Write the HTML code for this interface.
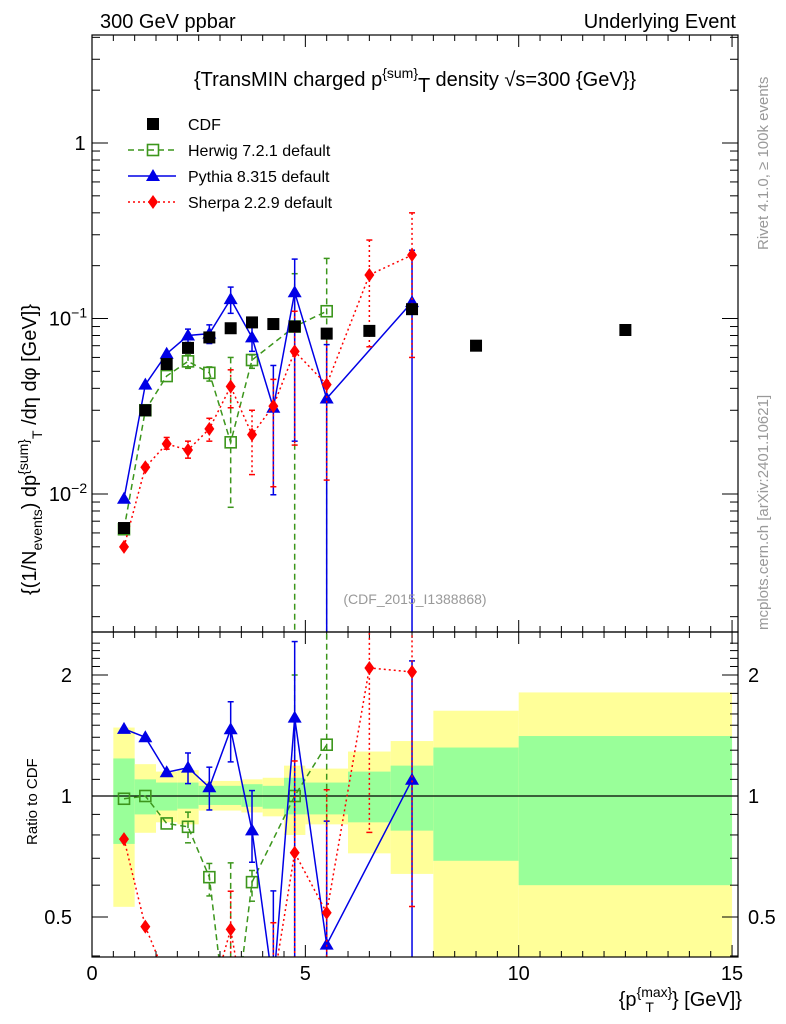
<!DOCTYPE html>
<html><head><meta charset="utf-8"><style>
html,body{margin:0;padding:0;background:#fff;width:786px;height:1024px;overflow:hidden}
svg{display:block;font-family:"Liberation Sans",sans-serif}
</style></head><body>
<svg id="chart" width="786" height="1024" viewBox="0 0 786 1024" xmlns="http://www.w3.org/2000/svg">
<defs>
<clipPath id="cm"><rect x="92" y="35" width="646" height="597"/></clipPath>
<clipPath id="cr"><rect x="92" y="632" width="646" height="325"/></clipPath>
</defs>
<rect x="0" y="0" width="786" height="1024" fill="#fff"/>
<g id="bands" clip-path="url(#cr)"></g>
<g id="ticks"></g>
<line id="unity" stroke="#000" stroke-width="1.2"/>
<g id="main" clip-path="url(#cm)"></g>
<g id="ratio" clip-path="url(#cr)"></g>
<rect x="92" y="35" width="646" height="597" fill="none" stroke="#000" stroke-width="1.2"/>
<rect x="92" y="632" width="646" height="325" fill="none" stroke="#000" stroke-width="1.2"/>
<text x="100" y="28" font-size="20">300 GeV ppbar</text>
<text x="736" y="28" font-size="20" text-anchor="end">Underlying Event</text>
<text x="415" y="86" font-size="20" text-anchor="middle">{TransMIN charged p<tspan font-size="14" dy="-8">{sum}</tspan><tspan dy="14">T</tspan><tspan dy="-6"> density √s=300 {GeV}}</tspan></text>
<text x="415" y="604" font-size="14" fill="#999" text-anchor="middle">(CDF_2015_I1388868)</text>
<text transform="translate(768,250) rotate(-90)" font-size="15" fill="#999">Rivet 4.1.0, ≥ 100k events</text>
<text transform="translate(768,630) rotate(-90)" font-size="15" fill="#999">mcplots.cern.ch [arXiv:2401.10621]</text>
<text transform="translate(36,595) rotate(-90)" font-size="20">{(1/N<tspan font-size="14" dy="6">events</tspan><tspan dy="-6">) dp</tspan><tspan font-size="14" dy="-8">{sum}</tspan><tspan font-size="14" dy="14">T</tspan><tspan dy="-6"> /dη  dφ [GeV]}</tspan></text>
<text transform="translate(37,845) rotate(-90)" font-size="15">Ratio to CDF</text>
<text x="742" y="1006" font-size="20" text-anchor="end">{p<tspan font-size="14" dy="-9">{max}</tspan><tspan font-size="14" dx="-27" dy="15">T</tspan><tspan dx="18" dy="-6">} [GeV]}</tspan></text>
<g id="legend"></g>
</svg>
<script>
const xCenters=[0.75,1.25,1.75,2.25,2.75,3.25,3.75,4.25,4.75,5.5,6.5,7.5,9,12.5];
const cdfVals=[0.0064,0.030,0.055,0.068,0.078,0.088,0.095,0.093,0.090,0.082,0.085,0.113,0.070,0.086];
const herwigX=[0.75,1.25,1.75,2.25,2.75,3.25,3.75,4.75,5.5];
const herwigVals=[0.0063,0.030,0.047,0.057,0.049,0.0197,0.058,0.090,0.110];
const herwigHi=[null,null,null,0.062,0.053,0.060,0.062,0.18,0.22];
const herwigLo=[null,null,null,0.052,0.044,0.0084,0.052,0,0];
const pythiaX=[0.75,1.25,1.75,2.25,2.75,3.25,3.75,4.25,4.75,5.5,7.5];
const pythiaVals=[0.0094,0.042,0.063,0.080,0.082,0.129,0.078,0.031,0.141,0.035,0.124];
const pythiaHi=[null,null,null,0.087,0.092,0.151,0.098,0.054,0.218,0.071,0.245];
const pythiaLo=[null,null,null,0.073,0.072,0.107,0.065,0.0099,0.02,0,0];
const sherpaX=[0.75,1.25,1.75,2.25,2.75,3.25,3.75,4.25,4.75,5.5,6.5,7.5];
const sherpaVals=[0.005,0.0142,0.0193,0.0178,0.0235,0.041,0.0218,0.0317,0.065,0.042,0.177,0.23];
const sherpaHi=[null,null,0.021,0.020,0.027,0.051,0.030,0.045,0.11,0.085,0.28,0.40];
const sherpaLo=[null,null,0.018,0.016,0.020,0.031,0.0129,0.011,0.019,0.012,0.069,0.06];
const bandEdges=[0.5,1,1.5,2,2.5,3,3.5,4,4.5,5,6,7,8,10,15];
const yellowHi=[1.48,1.20,1.15,1.16,1.09,1.09,1.10,1.11,1.19,1.17,1.29,1.37,1.63,1.81];
const yellowLo=[0.53,0.81,0.86,0.85,0.92,0.92,0.91,0.89,0.80,0.85,0.72,0.64,0.3,0.3];
const greenHi=[1.24,1.10,1.08,1.08,1.06,1.06,1.07,1.06,1.11,1.08,1.15,1.19,1.32,1.41];
const greenLo=[0.76,0.90,0.92,0.93,0.95,0.95,0.94,0.93,0.90,0.90,0.86,0.82,0.69,0.60];
const xTicks=[0,5,10,15];

const NS="http://www.w3.org/2000/svg";
const X=v=>92+42.67*v;
const Y=v=>143-175.5*Math.log10(Math.max(v,1e-5));
const R=v=>796-121*Math.log2(Math.max(v,1e-3));
function mk(tag,attrs,parent){const e=document.createElementNS(NS,tag);for(const k in attrs)e.setAttribute(k,attrs[k]);parent.appendChild(e);return e;}
const gB=document.getElementById('bands'),gT=document.getElementById('ticks'),gM=document.getElementById('main'),gR=document.getElementById('ratio'),gL=document.getElementById('legend');

for(let i=0;i<yellowHi.length;i++){
  const x0=X(bandEdges[i]),x1=X(bandEdges[i+1]);
  const y=mk('rect',{x:x0,y:R(yellowHi[i]),width:x1-x0,height:R(yellowLo[i])-R(yellowHi[i]),fill:'#ffff99'},gB);
  
  
  const g=mk('rect',{x:x0,y:R(greenHi[i]),width:x1-x0,height:R(greenLo[i])-R(greenHi[i]),fill:'#99ff99'},gB);
  
  
}
const u=document.getElementById('unity');u.setAttribute('x1',92);u.setAttribute('x2',738);u.setAttribute('y1',R(1));u.setAttribute('y2',R(1));

function tk(x1,y1,x2,y2){mk('line',{x1,y1,x2,y2,stroke:'#000','stroke-width':1},gT);}
for(let v=0;v<=15.01;v+=0.5){const x=X(v);const L=(Math.abs(v-Math.round(v/5)*5)<1e-6)?12:6;
  tk(x,35,x,35+L);tk(x,632,x,632-L);tk(x,632,x,632+L);tk(x,957,x,957-L);}
xTicks.forEach(v=>{const t=mk('text',{x:X(v),y:980,'font-size':20,'text-anchor':'middle'},gT);t.textContent=v;
  
  });
for(let d=-3;d<=0;d++)for(let m=1;m<=9;m++){const v=m*Math.pow(10,d);const y=Y(v);if(y<35||y>632)continue;const L=m==1?16:8;tk(92,y,92+L,y);tk(738,y,738-L,y);}
[[1,'1'],[0.1,'10'],[0.01,'10']].forEach(([v,s],i)=>{const t=mk('text',{x:i?68:80,y:Y(v)+7,'font-size':20,'text-anchor':'middle'},gT);
  
  
  t.textContent=s;if(i){const sp=mk('tspan',{'font-size':14,dy:-8},t);sp.textContent=i==1?'−1':'−2';}});
for(let v=0.4;v<=2.5;v+=0.1){const y=R(v);if(y<632||y>957)continue;const maj=[0.5,1,2].some(m=>Math.abs(m-v)<1e-6);const L=maj?16:8;tk(92,y,92+L,y);tk(738,y,738-L,y);}
[[2,'2'],[1,'1'],[0.5,'0.5']].forEach(([v,s])=>{
  const a=mk('text',{x:72,y:R(v)+7,'font-size':20,'text-anchor':'end'},gT);a.textContent=s;
  
  
  const b=mk('text',{x:748,y:R(v)+7,'font-size':20},gT);b.textContent=s;
  
  });

function marker(type,cx,cy,col,parent){
  if(type=='sq')return mk('rect',{x:cx-6,y:cy-6,width:12,height:12,fill:'#000'},parent);
  if(type=='osq')return mk('rect',{x:cx-5.5,y:cy-5.5,width:11,height:11,fill:'none',stroke:col,'stroke-width':1.6},parent);
  if(type=='tri')return mk('polygon',{points:`${cx},${cy-7} ${cx-7},${cy+5} ${cx+7},${cy+5}`,fill:col},parent);
  return mk('polygon',{points:`${cx},${cy-7} ${cx-5},${cy} ${cx},${cy+7} ${cx+5},${cy}`,fill:col},parent);
}
function series(name,xs,vals,hi,lo,col,dash,type){
  const gm=mk('g',{},gM);
  const gr=mk('g',{},gR);
  const rv=xs.map((x,i)=>vals[i]/cdfVals[xCenters.indexOf(x)]);
  mk('polyline',{points:xs.map((x,i)=>X(x)+','+Y(vals[i])).join(' '),fill:'none',stroke:col,'stroke-width':1.5,'stroke-dasharray':dash},gm);
  mk('polyline',{points:xs.map((x,i)=>X(x)+','+R(rv[i])).join(' '),fill:'none',stroke:col,'stroke-width':1.5,'stroke-dasharray':dash},gr);
  xs.forEach((x,i)=>{
    const c=cdfVals[xCenters.indexOf(x)];
    if(hi&&hi[i]!=null){
      [[gm,Y],[gr,v=>R(v/c)]].forEach(([g,f])=>{const yh=f(hi[i]),yl=f(lo[i]);
        mk('line',{x1:X(x),x2:X(x),y1:yh,y2:yl,stroke:col,'stroke-width':1.5,'stroke-dasharray':dash},g);
        mk('line',{x1:X(x)-3,x2:X(x)+3,y1:yh,y2:yh,stroke:col,'stroke-width':1.5},g);
        mk('line',{x1:X(x)-3,x2:X(x)+3,y1:yl,y2:yl,stroke:col,'stroke-width':1.5},g);});
    }
    const m=marker(type,X(x),Y(vals[i]),col,gm);
    
    
    const m2=marker(type,X(x),R(rv[i]),col,gr);
    
    
  });
}
series('herwig',herwigX,herwigVals,herwigHi,herwigLo,'#3c961c','6,4','osq');
series('pythia',pythiaX,pythiaVals,pythiaHi,pythiaLo,'#0000e6','','tri');
series('sherpa',sherpaX,sherpaVals,sherpaHi,sherpaLo,'#ff0000','2,3','dia');
xCenters.forEach((x,i)=>{const m=marker('sq',X(x),Y(cdfVals[i]),'#000',gM);
  
  });

const leg=[['CDF','sq','#000',''],['Herwig 7.2.1 default','osq','#3c961c','6,4'],['Pythia 8.315 default','tri','#0000e6',''],['Sherpa 2.2.9 default','dia','#ff0000','2,3']];
leg.forEach(([t,ty,c,d],i)=>{const y=124+26*i;
  const g=mk('g',{},gL);
  if(i>0)mk('line',{x1:128,x2:176,y1:y,y2:y,stroke:c,'stroke-width':1.5,'stroke-dasharray':d},g);
  marker(ty,153,y,c,g);
  const tx=mk('text',{x:188,y:y+6,'font-size':16},g);tx.textContent=t;});
</script>
</body></html>
